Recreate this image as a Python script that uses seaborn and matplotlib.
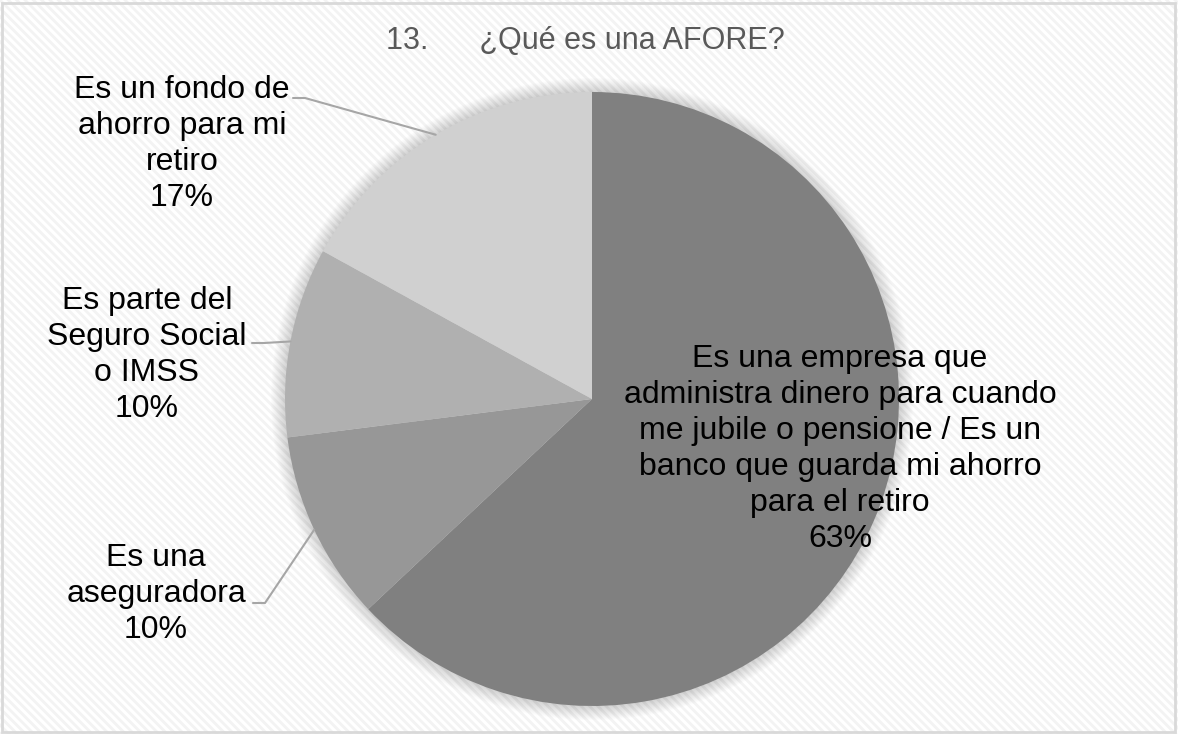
import numpy as np
import matplotlib
matplotlib.use('Agg')
import matplotlib.pyplot as plt
import seaborn as sns
from matplotlib.patches import Rectangle, Circle

# data
categories = [
    'Es una empresa que\nadministra dinero para cuando\nme jubile o pensione / Es un\nbanco que guarda mi ahorro\npara el retiro',
    'Es una\naseguradora',
    'Es parte del\nSeguro Social\no IMSS',
    'Es un fondo de\nahorro para mi\nretiro',
]
shares = [63, 10, 10, 17]
slice_colors = ['#808080', '#979797', '#b0b0b0', '#d0d0d0']
title = '13.      ¿Qué es una AFORE?'

sns.set_theme(style='white')
plt.rcParams['font.family'] = ['Liberation Sans', 'DejaVu Sans']
plt.rcParams['hatch.linewidth'] = 2.0

W, H = 1178, 734
fig = plt.figure(figsize=(W / 100, H / 100), dpi=100)
ax = fig.add_axes([0, 0, 1, 1])

def py(y):
    # pixel row -> data y
    return H - y

# striped background + border
ax.add_patch(Rectangle((0, 0), W, H, facecolor='white', edgecolor='none', zorder=0))
ax.add_patch(Rectangle((0, 0), W, H, facecolor='none', hatch='\\\\\\\\', edgecolor='#f3f3f3',
                       linewidth=0, zorder=0.5))
ax.add_patch(Rectangle((2, py(732)), 1173, 729, facecolor='none', edgecolor='#d9d9d9',
                       linewidth=2, zorder=5))

cx, cy, r = 592, py(399), 307

# soft glow around the pie
for i in range(14):
    ax.add_patch(Circle((cx, cy), r + 14 - i, facecolor='#000000', alpha=0.010,
                        edgecolor='none', zorder=1))

wedges, _ = ax.pie(shares, colors=slice_colors, startangle=90, counterclock=False,
                   center=(cx, cy), radius=r, frame=True,
                   wedgeprops=dict(linewidth=0, zorder=2))
ax.set_xlim(0, W)
ax.set_ylim(0, H)
ax.set_aspect('equal')
ax.axis('off')

ax.text(585, py(41), title, ha='center', va='center', fontsize=22, color='#595959')

lab_size = 23
pct = [f'{v}%' for v in shares]

# main slice label, inside
ax.text(840, py(449), categories[0] + '\n' + pct[0], ha='center', va='center',
        fontsize=lab_size, color='black', linespacing=1.26, zorder=4)

# outside labels with leader lines
label_pos = [None, (156, 594), (147, 355), (182, 144)]
leader_start = [None, (253, 603), (252, 343), (293, 98)]
for i in range(1, 4):
    w = wedges[i]
    mid = np.deg2rad((w.theta1 + w.theta2) / 2)
    ex, ey = cx + r * np.cos(mid), cy + r * np.sin(mid)
    sx, sy = leader_start[i]
    ax.plot([sx, sx + 12, ex], [py(sy), py(sy), ey], color='#a6a6a6', lw=1.5, zorder=3)
    lx, ly = label_pos[i]
    ax.text(lx, py(ly), categories[i] + '\n' + pct[i], ha='center', va='center',
            fontsize=lab_size, color='black', linespacing=1.26, zorder=4)

fig.savefig('out.png', dpi=100)
